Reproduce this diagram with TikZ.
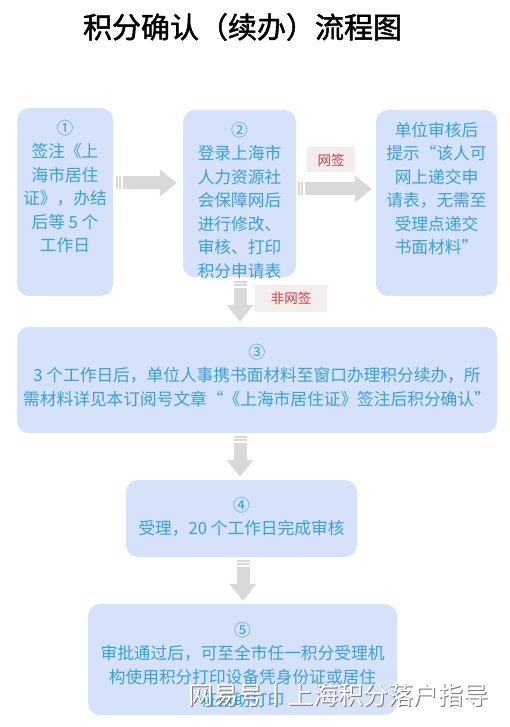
\documentclass[tikz,border=0pt]{standalone}
\usepackage{fontspec}
\usepackage{xcolor}
\usepackage{tikz}
\usetikzlibrary{arrows.meta, positioning, calc}
\newfontfamily\cjk{Noto Sans CJK SC}
\newfontfamily\cjktitle{Noto Sans CJK SC}[FakeBold=1.6]
\definecolor{boxfill}{HTML}{D6E2F9}
\definecolor{txtblue}{HTML}{3A9FD5}
\definecolor{arrowgray}{HTML}{D9D9D9}
\definecolor{tagfill}{HTML}{F4EDED}
\definecolor{tagred}{HTML}{D23A3F}
\newcommand{\boxtext}[4]{\parbox[c][#1][t]{#2}{\centering\vspace*{#3}#4\par}}

\begin{document}
\begin{tikzpicture}[x=1pt, y=-1pt,
    stepbox/.style={fill=boxfill, rounded corners=12pt, text=txtblue, inner sep=0pt,
      font=\cjk\fontsize{16.7}{23.5}\selectfont},
    bigarrow/.style={draw=arrowgray, line width=13pt,
      dash pattern=on 1.5pt off 1.5pt on 1.5pt off 2.5pt on 400pt,
      -{Triangle[width=26pt, length=17pt]}},
    tag/.style={fill=tagfill, text=tagred, inner sep=0pt, minimum height=25pt,
      font=\cjk\fontsize{13.5}{15}\selectfont}]
  \useasboundingbox[fill=white] (0,0) rectangle (509,727);
  % Titel
  \node[font=\cjktitle\fontsize{29}{32}\selectfont] (title) at (242.5,27) {积分确认（续办）流程图};
  % obere Reihe
  \node[stepbox] (b1) at (65,202) {\boxtext{188pt}{96pt}{12pt}{①\\签注《上\\海市居住\\证》，办结\\后等 5 个\\工作日}};
  \node[stepbox] (b2) at (239.5,193.5) {\boxtext{167pt}{113pt}{12pt}{②\\登录上海市\\人力资源社\\会保障网后\\进行修改、\\审核、打印\\积分申请表}};
  \node[stepbox] (b3) at (436.5,203) {\boxtext{186pt}{121pt}{12pt}{单位审核后\\提示“该人可\\网上递交申\\请表，无需至\\受理点递交\\书面材料”}};
  % untere Kaesten
  \node[stepbox] (b4) at (257,380) {\boxtext{106pt}{480pt}{17pt}{③\\3 个工作日后，单位人事携书面材料至窗口办理积分续办，所\\需材料详见本订阅号文章“《上海市居住证》签注后积分确认”}};
  \node[stepbox] (b5) at (241.5,518.5) {\boxtext{77pt}{231pt}{17pt}{④\\受理，20 个工作日完成审核}};
  \node[stepbox] (b6) at (242.5,659.5) {\boxtext{111pt}{309pt}{18pt}{⑤\\审批通过后，可至全市任一积分受理机\\构使用积分打印设备凭身份证或居住\\证自助打印}};
  % Pfeile
  \draw[bigarrow] ([shift={(3,-19)}]b1.east) -- ([shift={(-6,-10.5)}]b2.west);
  \draw[bigarrow] ([shift={(2,-4.5)}]b2.east) -- ([shift={(-4,-14)}]b3.west)
    node[tag, minimum width=48pt, pos=0.5, xshift=-4pt, yshift=29pt] (web) {网签};
  \draw[bigarrow] ([shift={(0.5,4)}]b2.south) -- ([shift={(-17,-5)}]b4.north)
    node[tag, minimum width=72pt, minimum height=27pt, pos=0.5, xshift=51pt, yshift=3.5pt] (noweb) {非网签};
  \draw[bigarrow] ([shift={(-17,3)}]b4.south) -- ([shift={(-1.5,-3)}]b5.north);
  \draw[bigarrow] ([shift={(1.5,3)}]b5.south) -- ([shift={(0.5,-3)}]b6.north);
  % Wasserzeichen
  \node[text=black!55, font=\cjk\fontsize{25}{28}\selectfont, anchor=west] (wmshadow) at (186,696) {网易号丨上海积分落户指导};
  \node[text=white, font=\cjk\fontsize{25}{28}\selectfont, anchor=west] (wm) at (185,695) {网易号丨上海积分落户指导};
\end{tikzpicture}
\end{document}
